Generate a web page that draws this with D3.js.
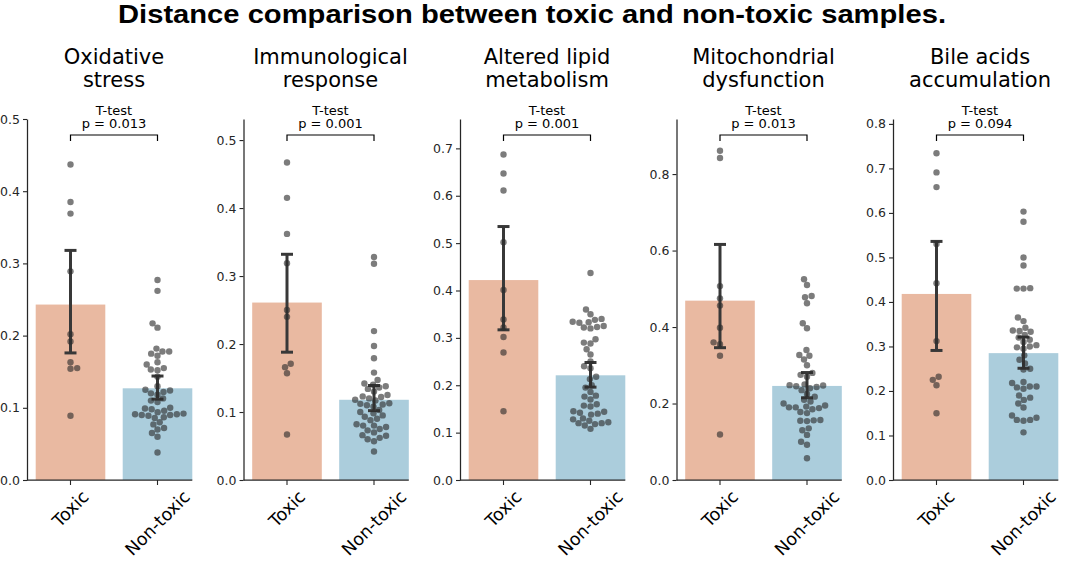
<!DOCTYPE html>
<html><head><meta charset="utf-8">
<script src="https://cdn.jsdelivr.net/npm/d3@7"></script>
<style>body{margin:0;background:#fff}</style>
</head><body>
<svg id="chart" width="1065" height="562"></svg>
<script>
// ---------------- DATA ----------------
const mainTitle = "Distance comparison between toxic and non-toxic samples.";
const categories = ["Toxic", "Non-toxic"];
const panelTitles = [
  ["Oxidative", "stress"],
  ["Immunological", "response"],
  ["Altered lipid", "metabolism"],
  ["Mitochondrial", "dysfunction"],
  ["Bile acids", "accumulation"]
];
const testName = "T-test";
const pValues = ["0.013", "0.001", "0.001", "0.013", "0.094"];
const yMax = [0.5, 0.531, 0.762, 0.944, 0.811];
const yTicks = [
  [0, 0.1, 0.2, 0.3, 0.4, 0.5],
  [0, 0.1, 0.2, 0.3, 0.4, 0.5],
  [0, 0.1, 0.2, 0.3, 0.4, 0.5, 0.6, 0.7],
  [0, 0.2, 0.4, 0.6, 0.8],
  [0, 0.1, 0.2, 0.3, 0.4, 0.5, 0.6, 0.7, 0.8]
];
const toxicMeans = [0.243, 0.261, 0.422, 0.469, 0.418];
const nonToxicMeans = [0.127, 0.118, 0.221, 0.246, 0.285];
const toxicCI = [[0.176, 0.318], [0.188, 0.332], [0.317, 0.535], [0.346, 0.616], [0.291, 0.536]];
const nonToxicCI = [[0.112, 0.144], [0.102, 0.139], [0.196, 0.248], [0.215, 0.281], [0.251, 0.321]];

const toxicPoints = [
  [0.437, 0.385, 0.369, 0.289, 0.202, 0.192, 0.163, 0.155, 0.154, 0.089],
  [0.467, 0.415, 0.362, 0.319, 0.25, 0.24, 0.171, 0.166, 0.157, 0.067],
  [0.687, 0.647, 0.611, 0.502, 0.401, 0.339, 0.322, 0.302, 0.269, 0.145],
  [0.861, 0.842, 0.507, 0.475, 0.456, 0.398, 0.36, 0.355, 0.325, 0.119],
  [0.734, 0.691, 0.658, 0.53, 0.442, 0.312, 0.232, 0.225, 0.213, 0.15]
];
const nonToxicPoints = [
  [0.277, 0.262, 0.217, 0.211, 0.182, 0.178, 0.178, 0.175, 0.172, 0.163, 0.16, 0.155, 0.153, 0.152, 0.143,
   0.13, 0.125, 0.124, 0.122, 0.12, 0.118, 0.113, 0.11, 0.108, 0.1, 0.099, 0.098, 0.096, 0.094, 0.092,
   0.091, 0.091, 0.09, 0.09, 0.089, 0.087, 0.086, 0.08, 0.077, 0.072, 0.07, 0.065, 0.06, 0.038],
  [0.328, 0.318, 0.219, 0.197, 0.179, 0.158, 0.147, 0.142, 0.14, 0.138, 0.136, 0.134, 0.13, 0.125, 0.123,
   0.122, 0.12, 0.118, 0.117, 0.113, 0.112, 0.111, 0.11, 0.108, 0.103, 0.1, 0.098, 0.095, 0.093, 0.09,
   0.088, 0.082, 0.08, 0.08, 0.078, 0.075, 0.073, 0.07, 0.066, 0.065, 0.062, 0.06, 0.057, 0.042],
  [0.437, 0.36, 0.35, 0.34, 0.338, 0.334, 0.333, 0.332, 0.325, 0.323, 0.322, 0.32, 0.297, 0.29, 0.288,
   0.276, 0.265, 0.25, 0.24, 0.236, 0.218, 0.213, 0.2, 0.195, 0.186, 0.178, 0.176, 0.17, 0.16, 0.157,
   0.155, 0.145, 0.144, 0.142, 0.14, 0.138, 0.13, 0.128, 0.125, 0.122, 0.12, 0.12, 0.118, 0.115, 0.108],
  [0.525, 0.51, 0.481, 0.478, 0.462, 0.41, 0.397, 0.34, 0.327, 0.325, 0.315, 0.3, 0.28, 0.275, 0.27,
   0.25, 0.248, 0.247, 0.245, 0.243, 0.24, 0.235, 0.225, 0.218, 0.21, 0.205, 0.2, 0.195, 0.192, 0.19,
   0.19, 0.188, 0.185, 0.178, 0.175, 0.157, 0.156, 0.155, 0.154, 0.135, 0.13, 0.118, 0.1, 0.092, 0.057],
  [0.603, 0.58, 0.5, 0.482, 0.431, 0.43, 0.43, 0.365, 0.357, 0.342, 0.336, 0.335, 0.333, 0.326, 0.32,
   0.315, 0.31, 0.303, 0.3, 0.298, 0.295, 0.28, 0.27, 0.262, 0.25, 0.248, 0.22, 0.218, 0.21, 0.21,
   0.208, 0.205, 0.19, 0.185, 0.18, 0.172, 0.163, 0.145, 0.14, 0.135, 0.135, 0.133, 0.107]
];

// ---------------- LAYOUT / STYLE ----------------
const svg = d3.select("#chart");
const AX_LEFT0 = 27, PANEL_STEP = 216.5, PANEL_W = 174, TOP = 119, BOTTOM = 480;
const barColors = ["#E9B9A1", "#ABCDDC"];
const ink = "#262626";
const DOT_R = 3.2;
const FONT = "'DejaVu Sans', sans-serif";

// main title
svg.append("text")
  .attr("x", 532).attr("y", 23)
  .attr("text-anchor", "middle")
  .style("font-family", "'Liberation Sans', Arial, sans-serif")
  .style("font-weight", "bold")
  .style("font-size", "26px")
  .attr("fill", "#000")
  .attr("textLength", 828).attr("lengthAdjust", "spacingAndGlyphs")
  .text(mainTitle);

function swarm(values, cx, y, r) {
  const pts = values.map(v => ({ v, y: y(v), x: cx }));
  const order = pts.slice().sort((a, b) => b.y - a.y);
  const placed = [];
  const d = 2 * r;
  for (const p of order) {
    const neighbors = [];
    for (let k = placed.length - 1; k >= 0; k--) {
      const q = placed[k];
      if (Math.abs(p.y - q.y) < d) neighbors.push(q); else break;
    }
    const cands = [cx];
    let leftFirst = true;
    for (const q of neighbors) {
      const dy = p.y - q.y;
      const dx = Math.sqrt(Math.max(d * d - dy * dy, 0)) * 1.05;
      if (leftFirst) cands.push(q.x - dx, q.x + dx); else cands.push(q.x + dx, q.x - dx);
      leftFirst = !leftFirst;
    }
    const sorted = cands.map((c, i) => ({ c, i }))
      .sort((a, b) => (Math.abs(a.c - cx) - Math.abs(b.c - cx)) || (a.i - b.i))
      .map(o => o.c);
    for (const c of sorted) {
      if (neighbors.every(q => Math.hypot(q.x - c, q.y - p.y) >= d - 1e-6)) { p.x = c; break; }
    }
    placed.push(p);
  }
  return pts;
}

for (let i = 0; i < 5; i++) {
  const left = AX_LEFT0 + i * PANEL_STEP;
  const g = svg.append("g");
  const x = d3.scaleBand().domain(categories).range([left, left + PANEL_W]).paddingInner(0.2).paddingOuter(0.1);
  const y = d3.scaleLinear().domain([0, yMax[i]]).range([BOTTOM, TOP]);
  const cxs = categories.map(c => x(c) + x.bandwidth() / 2);
  const means = [toxicMeans[i], nonToxicMeans[i]];
  const cis = [toxicCI[i], nonToxicCI[i]];
  const pts = [toxicPoints[i], nonToxicPoints[i]];

  // subplot title
  const tcx = left + PANEL_W / 2;
  panelTitles[i].forEach((line, k) => {
    g.append("text").attr("x", tcx).attr("y", 64 + k * 23)
      .attr("text-anchor", "middle")
      .style("font-family", FONT).style("font-size", "21px").attr("fill", "#000")
      .text(line);
  });

  // bars
  g.selectAll("rect.bar").data(categories).enter().append("rect")
    .attr("x", c => x(c)).attr("width", x.bandwidth())
    .attr("y", (c, j) => y(means[j])).attr("height", (c, j) => BOTTOM - y(means[j]))
    .attr("fill", (c, j) => barColors[j]);

  // error bars
  cis.forEach((ci, j) => {
    const eg = g.append("g").attr("stroke", "#383838").attr("stroke-width", 3);
    eg.append("line").attr("x1", cxs[j]).attr("x2", cxs[j]).attr("y1", y(ci[0])).attr("y2", y(ci[1]));
    eg.append("line").attr("x1", cxs[j] - 6).attr("x2", cxs[j] + 6).attr("y1", y(ci[0])).attr("y2", y(ci[0]));
    eg.append("line").attr("x1", cxs[j] - 6).attr("x2", cxs[j] + 6).attr("y1", y(ci[1])).attr("y2", y(ci[1]));
  });

  // swarm dots
  pts.forEach((vals, j) => {
    const s = swarm(vals, cxs[j], y, DOT_R);
    g.selectAll(null).data(s).enter().append("circle")
      .attr("cx", d => d.x).attr("cy", d => d.y).attr("r", DOT_R)
      .attr("fill", "#2b2b2b").attr("fill-opacity", 0.62);
  });

  // y axis
  const ya = g.append("g").attr("transform", `translate(${left},0)`)
    .call(d3.axisLeft(y).tickValues(yTicks[i]).tickFormat(d3.format(".1f")).tickSize(4).tickPadding(3).tickSizeOuter(0));
  ya.select(".domain").attr("stroke", ink).attr("stroke-width", 1.25);
  ya.selectAll(".tick line").attr("stroke", ink).attr("stroke-width", 1.1);
  ya.selectAll(".tick text").style("font-family", FONT).style("font-size", "12.5px").attr("fill", ink);

  // x axis spine + ticks
  const rightEnd = x(categories[1]) + x.bandwidth();
  g.append("line").attr("x1", left).attr("x2", rightEnd).attr("y1", BOTTOM).attr("y2", BOTTOM)
    .attr("stroke", ink).attr("stroke-width", 1.25);
  cxs.forEach((cx, j) => {
    g.append("line").attr("x1", cx).attr("x2", cx).attr("y1", BOTTOM).attr("y2", BOTTOM + 5)
      .attr("stroke", ink).attr("stroke-width", 1.1);
    const fs = 17.5;
    const t = g.append("text")
      .attr("text-anchor", "middle")
      .style("font-family", FONT).style("font-size", fs + "px").attr("fill", "#000")
      .text(categories[j]);
    const L = t.node().getComputedTextLength();
    const H = 1.164 * fs;
    const s = (L + H) * Math.SQRT1_2;
    const cy = BOTTOM + 5 + 1.5 + s / 2;
    t.attr("x", cx).attr("y", cy + 0.346 * fs)
      .attr("transform", `rotate(-45,${cx},${cy})`);
  });

  // significance bracket
  const bg = g.append("g").attr("stroke", "#000").attr("stroke-width", 1.2).attr("fill", "none");
  bg.append("path").attr("d", `M${cxs[0]},141 V135 H${cxs[1]} V141`);
  const mid = (cxs[0] + cxs[1]) / 2;
  g.append("text").attr("x", mid).attr("y", 115).attr("text-anchor", "middle")
    .style("font-family", FONT).style("font-size", "13px").attr("fill", "#000").text(testName);
  g.append("text").attr("x", mid).attr("y", 128).attr("text-anchor", "middle")
    .style("font-family", FONT).style("font-size", "13px").attr("fill", "#000").text("p = " + pValues[i]);
}
</script>
</body></html>
